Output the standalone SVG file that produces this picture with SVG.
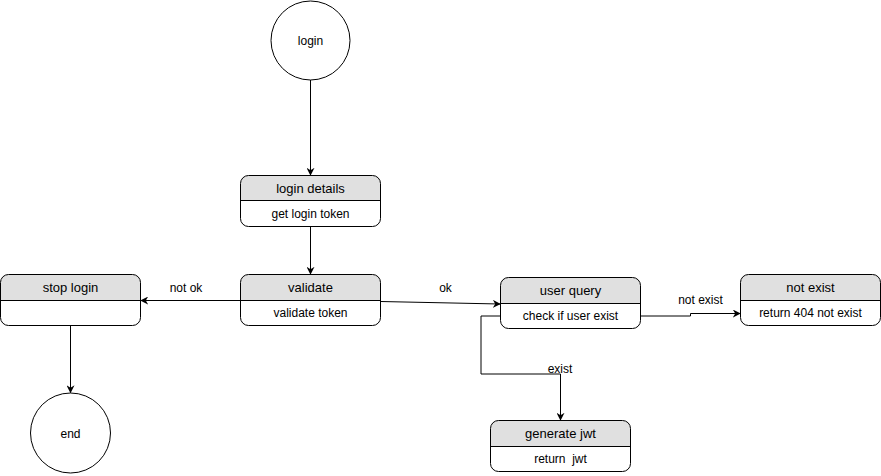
<svg xmlns="http://www.w3.org/2000/svg" width="881" height="476" viewBox="0 0 881 476">
<defs>
<marker id="arr" viewBox="0 0 10 10" refX="9" refY="5" markerWidth="8" markerHeight="8" markerUnits="userSpaceOnUse" orient="auto">
<path d="M0,0 L10,5 L0,10 L3,5 Z" fill="#000"/>
</marker>
<style>
text{font-family:"Liberation Sans",Arial,Helvetica,sans-serif;fill:#000;text-anchor:middle;dominant-baseline:central}
.h{font-size:13px}
.b{font-size:12px}
.l{font-size:12px}
.box{fill:#fff;stroke:#000;stroke-width:1}
.hd{fill:#e0e0e0}
.c{fill:none;stroke:#000;stroke-width:1}
.e{fill:none;stroke:#000;stroke-width:1;marker-end:url(#arr)}
</style>
</defs>
<rect width="881" height="476" fill="#fff"/>
<g id="login">
<circle class="c" cx="310.5" cy="40.5" r="39.5" fill="#fff"/>
<text class="b" x="310.5" y="41">login</text>
</g>
<g id="login-details">
<path class="hd" d="M240.5,200.5 V183.5 a8,8 0 0 1 8,-8 H372.5 a8,8 0 0 1 8,8 V200.5 Z"/>
<rect class="c" x="240.5" y="175.5" width="140" height="51" rx="8"/>
<line class="c" x1="240.5" y1="200.5" x2="380.5" y2="200.5"/>
<text class="h" x="310.5" y="188">login details</text>
<text class="b" x="310.5" y="213.5">get login token</text>
</g>
<g id="validate">
<path class="hd" d="M240.5,300.5 V282.5 a8,8 0 0 1 8,-8 H372.5 a8,8 0 0 1 8,8 V300.5 Z"/>
<rect class="c" x="240.5" y="274.5" width="140" height="51" rx="8"/>
<line class="c" x1="240.5" y1="300.5" x2="380.5" y2="300.5"/>
<text class="h" x="310.5" y="287.5">validate</text>
<text class="b" x="310.5" y="313">validate token</text>
</g>
<g id="stop-login">
<path class="hd" d="M0.5,300.5 V282.5 a8,8 0 0 1 8,-8 H132.5 a8,8 0 0 1 8,8 V300.5 Z"/>
<rect class="c" x="0.5" y="274.5" width="140" height="51" rx="8"/>
<line class="c" x1="0.5" y1="300.5" x2="140.5" y2="300.5"/>
<text class="h" x="70.5" y="287.5">stop login</text>
</g>
<g id="end">
<circle class="c" cx="70.5" cy="433" r="40" fill="#fff"/>
<text class="b" x="70.5" y="433.5">end</text>
</g>
<g id="user-query">
<path class="hd" d="M500.5,303.5 V285.5 a8,8 0 0 1 8,-8 H632.5 a8,8 0 0 1 8,8 V303.5 Z"/>
<rect class="c" x="500.5" y="277.5" width="140" height="51" rx="8"/>
<line class="c" x1="500.5" y1="303.5" x2="640.5" y2="303.5"/>
<text class="h" x="570.5" y="290.5">user query</text>
<text class="b" x="570.5" y="316">check if user exist</text>
</g>
<g id="not-exist">
<path class="hd" d="M740.5,300.5 V282.5 a8,8 0 0 1 8,-8 H872.5 a8,8 0 0 1 8,8 V300.5 Z"/>
<rect class="c" x="740.5" y="274.5" width="140" height="51" rx="8"/>
<line class="c" x1="740.5" y1="300.5" x2="880.5" y2="300.5"/>
<text class="h" x="810.5" y="287.5">not exist</text>
<text class="b" x="810.5" y="313">return 404 not exist</text>
</g>
<g id="generate-jwt">
<path class="hd" d="M490.5,446.5 V428.5 a8,8 0 0 1 8,-8 H622.5 a8,8 0 0 1 8,8 V446.5 Z"/>
<rect class="c" x="490.5" y="420.5" width="140" height="51" rx="8"/>
<line class="c" x1="490.5" y1="446.5" x2="630.5" y2="446.5"/>
<text class="h" x="560.5" y="433.5">generate jwt</text>
<text class="b" x="560.5" y="459">return&#160; jwt</text>
</g>
<g id="connectors">
<path class="e" d="M310.5,80 V175"/>
<path class="e" d="M310.5,226.5 V274"/>
<path class="e" d="M240.5,300.5 H141"/>
<text class="l" x="186" y="288">not ok</text>
<path class="e" d="M380.5,301.5 L500,304"/>
<text class="l" x="445.5" y="288">ok</text>
<path class="e" d="M640.5,316 H690.5 V313.5 H740"/>
<text class="l" x="700.5" y="300">not exist</text>
<path class="e" d="M500.5,316 H481 V374 H560.5 V420"/>
<text class="l" x="560" y="369">exist</text>
<path class="e" d="M70.5,326 V392.5"/>
</g>
</svg>
